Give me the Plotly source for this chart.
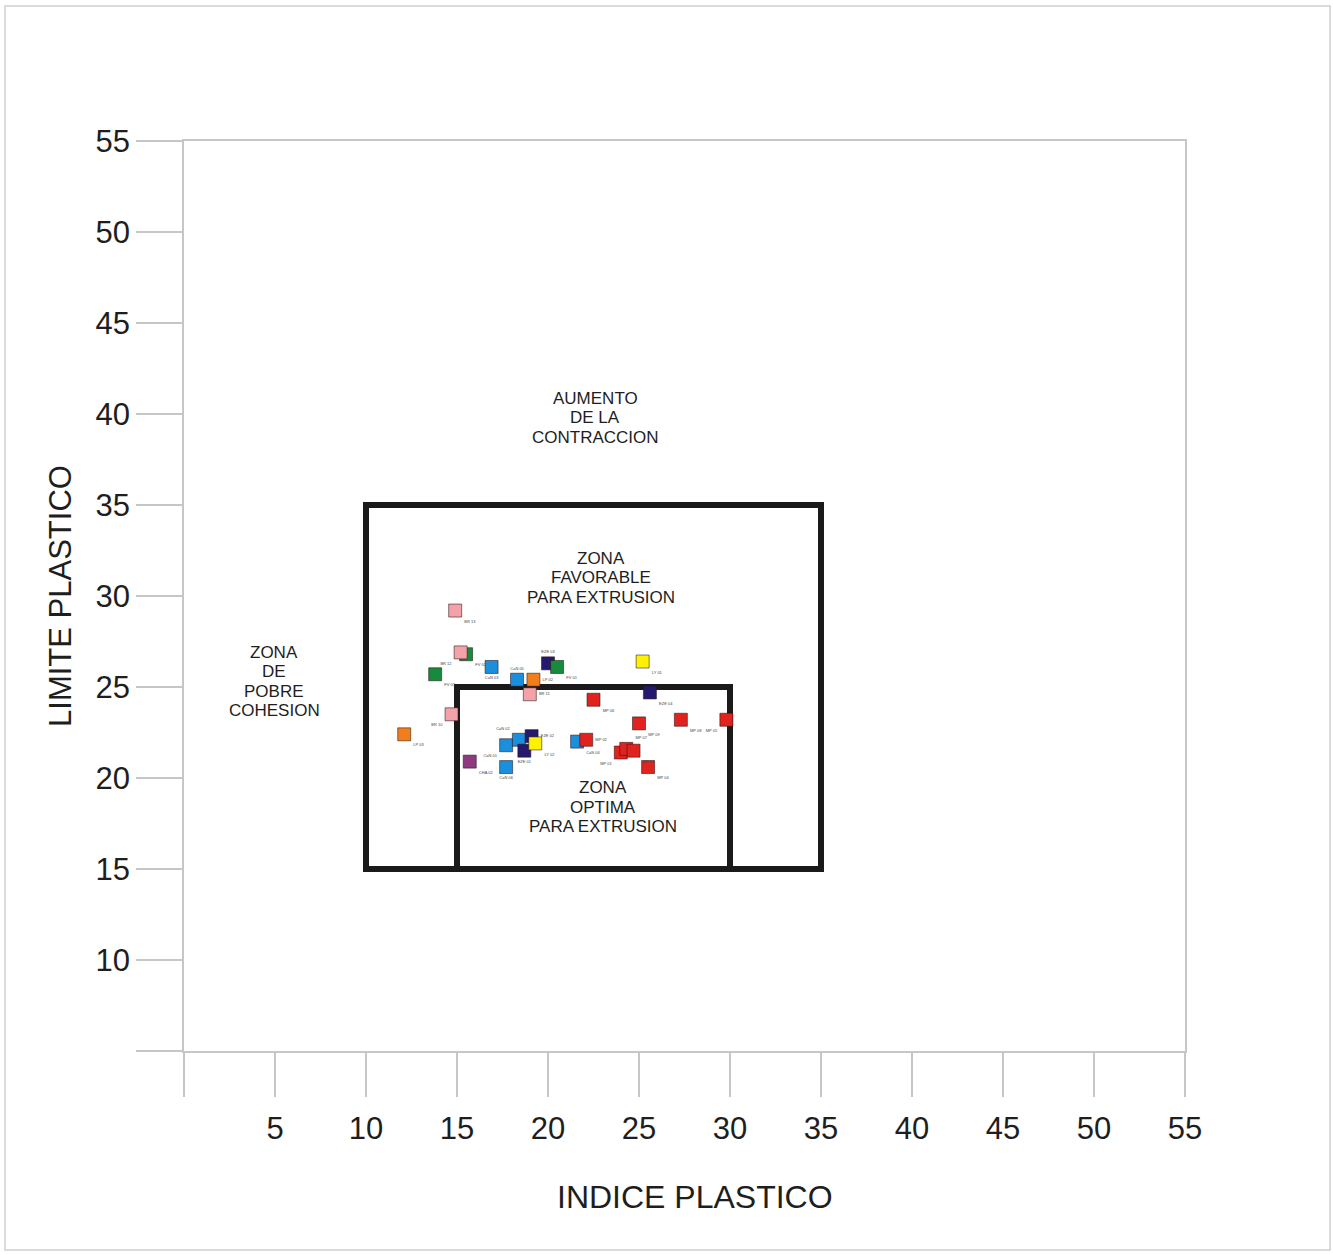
import plotly.graph_objects as go

# ---------------- data ----------------
x_ticks = [0, 5, 10, 15, 20, 25, 30, 35, 40, 45, 50, 55]
x_tick_text = ["", "5", "10", "15", "20", "25", "30", "35", "40", "45", "50", "55"]
y_ticks = [5, 10, 15, 20, 25, 30, 35, 40, 45, 50, 55]
y_tick_text = ["", "10", "15", "20", "25", "30", "35", "40", "45", "50", "55"]

# zone rectangles: [x0, x1, y0, y1]
zone_favorable = [10, 35, 15, 35]
zone_optima = [15, 30, 15, 25]

# samples (indice plastico, limite plastico)
can_x = [16.9, 18.3, 21.6, 17.7, 18.4, 17.7]
can_y = [26.1, 25.4, 22.0, 21.8, 22.1, 20.6]
can_lbl = ["CaN 03", "CaN 05", "CaN 04", "CaN 01", "CaN 02", "CaN 06"]
can_pos = ["bottom center", "top center", "bottom right", "bottom left", "top left", "bottom center"]

eze_x = [20.0, 25.6, 19.1, 18.7]
eze_y = [26.3, 24.7, 22.3, 21.5]
eze_lbl = ["EZE 03", "EZE 04", "EZE 02", "EZE 01"]
eze_pos = ["top center", "bottom right", "middle right", "bottom center"]

fv_x = [15.5, 13.8, 20.5]
fv_y = [26.8, 25.7, 26.1]
fv_lbl = ["FV 02", "FV 03", "FV 01"]
fv_pos = ["bottom right", "bottom right", "bottom right"]

br_x = [14.9, 15.2, 14.7, 19.0]
br_y = [29.2, 26.9, 23.5, 24.6]
br_lbl = ["BR 13", "BR 12", "BR 10", "BR 11"]
br_pos = ["bottom right", "bottom left", "bottom left", "middle right"]

lp_x = [19.2, 12.1]
lp_y = [25.4, 22.4]
lp_lbl = ["LP 02", "LP 03"]
lp_pos = ["middle right", "bottom right"]

ly_x = [25.2, 19.3]
ly_y = [26.4, 21.9]
ly_lbl = ["LY 01", "LY 02"]
ly_pos = ["bottom right", "bottom right"]

cha_x = [15.7]
cha_y = [20.9]
cha_lbl = ["CHA 02"]
cha_pos = ["bottom right"]

mp_x = [22.5, 25.0, 27.3, 29.8, 22.1, 24.0, 24.3, 24.7, 25.5]
mp_y = [24.3, 23.0, 23.2, 23.2, 22.1, 21.4, 21.6, 21.5, 20.6]
mp_lbl = ["MP 06", "MP 09", "MP 08", "MP 05", "MP 02", "MP 01", "MP 07", "MP 03", "MP 04"]
mp_pos = ["bottom right", "bottom right", "bottom right", "bottom left", "middle right",
          "bottom left", "top right", "bottom right", "bottom right"]

series = [
    ("CaN", can_x, can_y, can_lbl, can_pos, "#1b8fdc"),
    ("EZE", eze_x, eze_y, eze_lbl, eze_pos, "#25196e"),
    ("FV", fv_x, fv_y, fv_lbl, fv_pos, "#178a3c"),
    ("BR", br_x, br_y, br_lbl, br_pos, "#f2a2a8"),
    ("LP", lp_x, lp_y, lp_lbl, lp_pos, "#f07e1c"),
    ("LY", ly_x, ly_y, ly_lbl, ly_pos, "#fff200"),
    ("CHA", cha_x, cha_y, cha_lbl, cha_pos, "#8e3a7f"),
    ("MP", mp_x, mp_y, mp_lbl, mp_pos, "#e1231f"),
]

# zone captions: (center x, center y, lines)
captions = [
    (22.6, 39.8, ["AUMENTO", "DE LA", "CONTRACCION"]),
    (22.9, 31.0, ["ZONA", "FAVORABLE", "PARA EXTRUSION"]),
    (4.95, 25.3, ["ZONA", "DE", "POBRE", "COHESION"]),
    (23.0, 18.4, ["ZONA", "OPTIMA", "PARA EXTRUSION"]),
]

FONT = "Liberation Sans, Arial, sans-serif"
GRAY = "#c6c6c6"
TXT = "#1e1e1e"
LINE_STEP = 1.07  # caption line spacing in y units (~19.5 px)

fig = go.Figure()
for name, xs, ys, lbl, pos, col in series:
    fig.add_trace(go.Scatter(
        x=xs, y=ys, text=lbl, name=name, mode="markers+text",
        textposition=pos,
        textfont=dict(size=4, color="#444", family=FONT),
        marker=dict(symbol="square", size=13, color=col,
                    line=dict(color="rgba(40,20,20,0.55)", width=1)),
        cliponaxis=False, showlegend=False,
    ))

shapes = []
for z in (zone_favorable, zone_optima):
    shapes.append(dict(type="rect", xref="x", yref="y",
                       x0=z[0], x1=z[1], y0=z[2], y1=z[3],
                       line=dict(color="#1a1a1a", width=6), layer="below"))
# page frame
shapes.append(dict(type="rect", xref="paper", yref="paper",
                   x0=-0.1788, x1=1.1449, y0=-0.2187, y1=1.1484,
                   line=dict(color="#cfcfcf", width=1.5), layer="below"))

ann_font = dict(family=FONT, size=17, color=TXT)
annotations = []
for cx, cy, lines in captions:
    n = len(lines)
    for i, t in enumerate(lines):
        yy = cy + ((n - 1) / 2 - i) * LINE_STEP
        annotations.append(dict(x=cx, y=yy, text=t, xref="x", yref="y",
                                showarrow=False, font=ann_font, align="center"))

# x-axis title (slightly right of centre, as in the reference)
annotations.append(dict(x=0.5105, y=-0.16, xref="paper", yref="paper",
                        text="INDICE PLASTICO", showarrow=False,
                        xanchor="center", yanchor="middle",
                        font=dict(family=FONT, size=32, color=TXT)))

axis_common = dict(
    showgrid=False, zeroline=False, showline=True, linecolor=GRAY, linewidth=1.5,
    mirror=True, ticks="outside", tickcolor=GRAY, tickwidth=1.5,
    tickfont=dict(family=FONT, size=31, color=TXT),
)

fig.update_layout(
    width=1333, height=1255,
    margin=dict(l=184, r=148, t=141, b=204, autoexpand=False),
    paper_bgcolor="white", plot_bgcolor="white",
    xaxis=dict(range=[0, 55], tickmode="array", tickvals=x_ticks, ticktext=x_tick_text,
               ticklen=44, ticklabelstandoff=5,
               **axis_common),
    yaxis=dict(range=[5, 55], tickmode="array", tickvals=y_ticks, ticktext=y_tick_text,
               ticklen=46, ticklabelstandoff=0,
               title=dict(text="LIMITE PLASTICO", font=dict(family=FONT, size=31, color=TXT), standoff=15),
               **axis_common),
    shapes=shapes, annotations=annotations,
    showlegend=False,
)

fig.write_html("out.html", config={"displayModeBar": False},
               post_script="document.body.style.margin='0';")
